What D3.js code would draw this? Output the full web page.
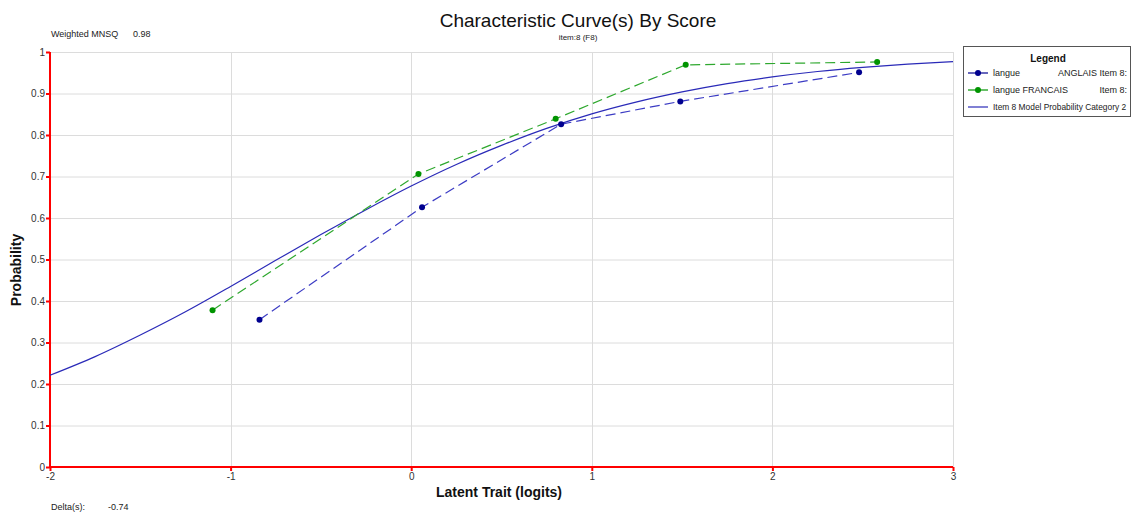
<!DOCTYPE html>
<html>
<head>
<meta charset="utf-8">
<script src="https://cdn.jsdelivr.net/npm/d3@7"></script>
<style>
  body { margin: 0; background: #fff; }
  svg { display: block; font-family: "Liberation Sans", Arial, sans-serif; }
</style>
</head>
<body>
<svg id="chart" width="1132" height="513"></svg>
<script>
// Observed proportions per score group, by language
const anglaisX = [-0.84, 0.06, 0.83, 1.49, 2.48];
const anglaisY = [0.355, 0.626, 0.826, 0.881, 0.951];
const francaisX = [-1.10, 0.04, 0.80, 1.52, 2.58];
const francaisY = [0.378, 0.706, 0.839, 0.969, 0.976];

// Model probability curve for category 2
const modelX = [-2, -1.75, -1.5, -1.25, -1, -0.75, -0.5, -0.25, 0, 0.25, 0.5, 0.75, 1, 1.25, 1.5, 1.75, 2, 2.25, 2.5, 2.75, 3];
const modelY = [0.221, 0.266, 0.318, 0.374, 0.435, 0.498, 0.560, 0.620, 0.677, 0.729, 0.775, 0.816, 0.851, 0.880, 0.904, 0.924, 0.940, 0.953, 0.963, 0.971, 0.977];

const xTicks = [-2, -1, 0, 1, 2, 3];
const yTicks = [0, 0.1, 0.2, 0.3, 0.4, 0.5, 0.6, 0.7, 0.8, 0.9, 1];
const legendLabels = ["langue", "langue FRANCAIS", "Item 8 Model Probability Category 2"];
const legendRight = ["ANGLAIS Item 8:", "Item 8:", ""];

const svg = d3.select("#chart");
const m = { left: 50, right: 953, top: 52, bottom: 467 };
const x = d3.scaleLinear().domain([-2, 3]).range([m.left, m.right]);
const y = d3.scaleLinear().domain([0, 1]).range([m.bottom, m.top]);

// grid
const grid = svg.append("g");
grid.selectAll(".gy").data(yTicks.slice(1)).enter().append("line")
  .attr("x1", m.left).attr("x2", m.right)
  .attr("y1", d => y(d) + 0.5).attr("y2", d => y(d) + 0.5)
  .attr("stroke", "#dcdcdc").attr("stroke-width", 1);
grid.selectAll(".gx").data(xTicks.slice(1)).enter().append("line")
  .attr("x1", d => Math.round(x(d)) + 0.5).attr("x2", d => Math.round(x(d)) + 0.5)
  .attr("y1", m.top).attr("y2", m.bottom)
  .attr("stroke", "#dcdcdc").attr("stroke-width", 1);

// axes
const xAxis = d3.axisBottom(x).tickValues(xTicks).tickSize(4).tickPadding(2).tickFormat(d => String(d));
const yAxis = d3.axisLeft(y).tickValues(yTicks).tickSize(4).tickPadding(1).tickFormat(d => d === 0 || d === 1 ? String(d) : d.toFixed(1));

const gx = svg.append("g").attr("transform", `translate(0,${m.bottom})`).call(xAxis);
const gy = svg.append("g").attr("transform", `translate(${m.left},0)`).call(yAxis);
[gx, gy].forEach(g => {
  g.select(".domain").remove();
  g.selectAll(".tick line").attr("stroke", "#ff0000").attr("stroke-width", 2);
  g.selectAll(".tick text").attr("fill", "#333").attr("font-size", 10)
    .attr("font-family", "'Liberation Sans', Arial, sans-serif");
});
svg.append("line").attr("x1", m.left).attr("x2", m.left).attr("y1", m.top).attr("y2", m.bottom + 1)
  .attr("stroke", "#ff0000").attr("stroke-width", 2);
svg.append("line").attr("x1", m.left - 1).attr("x2", m.right).attr("y1", m.bottom).attr("y2", m.bottom)
  .attr("stroke", "#ff0000").attr("stroke-width", 2);

// model curve
const line = d3.line().x(d => x(d[0])).y(d => y(d[1]));
svg.append("path").datum(d3.zip(modelX, modelY))
  .attr("d", line.curve(d3.curveMonotoneX))
  .attr("fill", "none").attr("stroke", "#2a2ab8").attr("stroke-width", 1.2);

// observed series
function series(xs, ys, lineColor, dotColor) {
  const pts = d3.zip(xs, ys);
  svg.append("path").datum(pts)
    .attr("d", d3.line().x(d => x(d[0])).y(d => y(d[1])))
    .attr("fill", "none").attr("stroke", lineColor).attr("stroke-width", 1.2)
    .attr("stroke-dasharray", "10,5");
  svg.selectAll(null).data(pts).enter().append("circle")
    .attr("cx", d => x(d[0])).attr("cy", d => y(d[1])).attr("r", 3)
    .attr("fill", dotColor);
}
series(anglaisX, anglaisY, "#3c3cc4", "#00008f");
series(francaisX, francaisY, "#2ea82e", "#009400");

// titles
svg.append("text").attr("x", 578).attr("y", 27).attr("text-anchor", "middle")
  .attr("font-size", 19).attr("fill", "#111").text("Characteristic Curve(s) By Score");
svg.append("text").attr("x", 578).attr("y", 40).attr("text-anchor", "middle")
  .attr("font-size", 8).attr("fill", "#222").text("item:8 (F8)");
svg.append("text").attr("x", 51).attr("y", 37).attr("font-size", 9).attr("fill", "#222")
  .text("Weighted MNSQ");
svg.append("text").attr("x", 133).attr("y", 37).attr("font-size", 9).attr("fill", "#222")
  .text("0.98");
svg.append("text").attr("x", 51).attr("y", 510).attr("font-size", 9).attr("fill", "#222")
  .text("Delta(s):");
svg.append("text").attr("x", 108).attr("y", 510).attr("font-size", 9).attr("fill", "#222")
  .text("-0.74");

svg.append("text").attr("x", 499).attr("y", 497).attr("text-anchor", "middle")
  .attr("font-size", 14).attr("font-weight", "bold").attr("fill", "#111")
  .text("Latent Trait (logits)");
svg.append("text").attr("transform", "translate(21,270) rotate(-90)").attr("text-anchor", "middle")
  .attr("font-size", 14).attr("font-weight", "bold").attr("fill", "#111")
  .text("Probability");

// legend
const lg = svg.append("g");
lg.append("rect").attr("x", 963.5).attr("y", 46.5).attr("width", 167).attr("height", 70)
  .attr("fill", "#fff").attr("stroke", "#555").attr("stroke-width", 1);
lg.append("text").attr("x", 1048).attr("y", 62).attr("text-anchor", "middle")
  .attr("font-size", 10).attr("font-weight", "bold").attr("fill", "#111").text("Legend");
const legendColors = ["#00008f", "#009400", "#2a2ab8"];
legendLabels.forEach((lab, i) => {
  const yy = 73 + i * 17;
  lg.append("line").attr("x1", 968).attr("x2", 988).attr("y1", yy).attr("y2", yy)
    .attr("stroke", legendColors[i]).attr("stroke-width", 1.2);
  if (i < 2) lg.append("circle").attr("cx", 978).attr("cy", yy).attr("r", 3).attr("fill", legendColors[i]);
  lg.append("text").attr("x", 993).attr("y", yy + 3)
    .attr("font-size", i === 2 ? 8.4 : 9).attr("fill", "#222").text(lab);
  if (legendRight[i]) lg.append("text").attr("x", 1127).attr("y", yy + 3).attr("text-anchor", "end")
    .attr("font-size", 9).attr("fill", "#222").text(legendRight[i]);
});
</script>
</body>
</html>
